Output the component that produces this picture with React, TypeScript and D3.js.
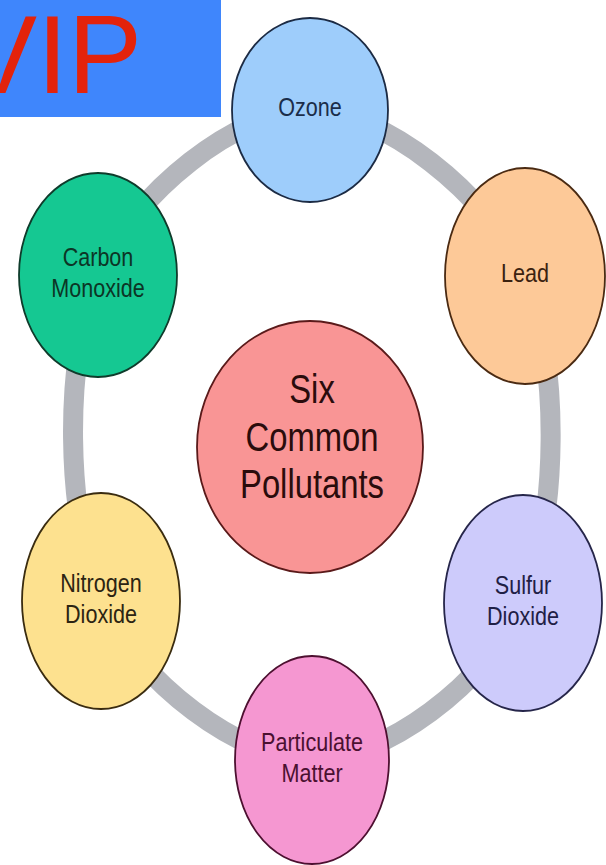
import * as d3 from 'd3';
import React, { useEffect, useRef } from 'react';

// diagram content
const badgeText = 'VIP';
const centerTitle = ['Six', 'Common', 'Pollutants'];
const pollutants = [
    ['Ozone'],
    ['Lead'],
    ['Sulfur', 'Dioxide'],
    ['Particulate', 'Matter'],
    ['Nitrogen', 'Dioxide'],
    ['Carbon', 'Monoxide'],
];
const fills = ['#9ecdfb', '#fdc998', '#cdcbfb', '#f597d1', '#fde18f', '#15c892'];
const strokes = ['#1c2b44', '#4a2a12', '#26264a', '#4d1030', '#3a2c10', '#0f3b2b'];
const inks = ['#1b2d4a', '#3b2210', '#1f2045', '#4a1030', '#2c2412', '#0c3526'];

// where each bubble sits on the page
const layout = [
    { cx: 310, cy: 110, rx: 78, ry: 92 },
    { cx: 525, cy: 276, rx: 80, ry: 108 },
    { cx: 523, cy: 603, rx: 79, ry: 108 },
    { cx: 312, cy: 760, rx: 77, ry: 104 },
    { cx: 101, cy: 601, rx: 79, ry: 108 },
    { cx: 98, cy: 275, rx: 79, ry: 102 },
];
const hub = { cx: 310, cy: 447, rx: 113, ry: 126 };

const W = 606;
const H = 865;
const font = "'Liberation Sans', Arial, sans-serif";

function App() {
    const ref = useRef<SVGSVGElement>(null);

    const drawChart = () => {
        const svg = d3.select(ref.current);
        svg.selectAll('*').remove();
        svg.attr('width', W).attr('height', H);

        svg.append('rect').attr('width', W).attr('height', H).attr('fill', '#ffffff');

        // grey ring through the bubble centres
        const ring = d3.line<{ cx: number; cy: number }>()
            .x(d => d.cx)
            .y(d => d.cy)
            .curve(d3.curveCardinalClosed.tension(0));
        svg.append('path')
            .attr('d', ring(layout))
            .attr('fill', 'none')
            .attr('stroke', '#b4b6bc')
            .attr('stroke-width', 20);

        const color = d3.scaleOrdinal<number, string>().domain(d3.range(pollutants.length)).range(fills);
        const line = d3.scaleOrdinal<number, string>().domain(d3.range(pollutants.length)).range(strokes);
        const ink = d3.scaleOrdinal<number, string>().domain(d3.range(pollutants.length)).range(inks);

        const nodes = svg.append('g')
            .selectAll('g')
            .data(pollutants)
            .join('g');

        nodes.append('ellipse')
            .attr('cx', (d, i) => layout[i].cx)
            .attr('cy', (d, i) => layout[i].cy)
            .attr('rx', (d, i) => layout[i].rx)
            .attr('ry', (d, i) => layout[i].ry)
            .attr('fill', (d, i) => color(i))
            .attr('stroke', (d, i) => line(i))
            .attr('stroke-width', 1.8);

        // labels: 26px, squeezed horizontally like the source
        const lh = 31;
        nodes.each(function (lines, i) {
            const g = d3.select(this);
            const { cx, cy } = layout[i];
            lines.forEach((t, k) => {
                const y = cy - 3 + (k - (lines.length - 1) / 2) * lh + 9;
                g.append('text')
                    .attr('transform', `translate(${cx},${y}) scale(0.83,1)`)
                    .attr('text-anchor', 'middle')
                    .attr('font-family', font)
                    .attr('font-size', 26)
                    .attr('fill', ink(i))
                    .text(t);
            });
        });

        // centre bubble
        svg.append('ellipse')
            .attr('cx', hub.cx)
            .attr('cy', hub.cy)
            .attr('rx', hub.rx)
            .attr('ry', hub.ry)
            .attr('fill', '#f99595')
            .attr('stroke', '#5a1a1a')
            .attr('stroke-width', 1.8);

        centerTitle.forEach((t, k) => {
            const y = hub.cy - 11 + (k - (centerTitle.length - 1) / 2) * 47.5 + 14.5;
            svg.append('text')
                .attr('transform', `translate(${hub.cx + 2},${y}) scale(0.82,1)`)
                .attr('text-anchor', 'middle')
                .attr('font-family', font)
                .attr('font-size', 40)
                .attr('fill', '#2a0c0c')
                .text(t);
        });

        // badge in the corner
        svg.append('rect')
            .attr('x', 0)
            .attr('y', 0)
            .attr('width', 221)
            .attr('height', 117)
            .attr('fill', '#3f86fc');
        svg.append('text')
            .attr('x', -37)
            .attr('y', 93)
            .attr('font-family', font)
            .attr('font-size', 111)
            .attr('fill', '#e3230b')
            .text(badgeText);
    };

    useEffect(() => {
        document.body.style.margin = '0';
        drawChart();
    }, []);

    return (
        <div>
            <svg ref={ref} style={{ display: 'block' }}></svg>
        </div>
    );
}

export default App;
